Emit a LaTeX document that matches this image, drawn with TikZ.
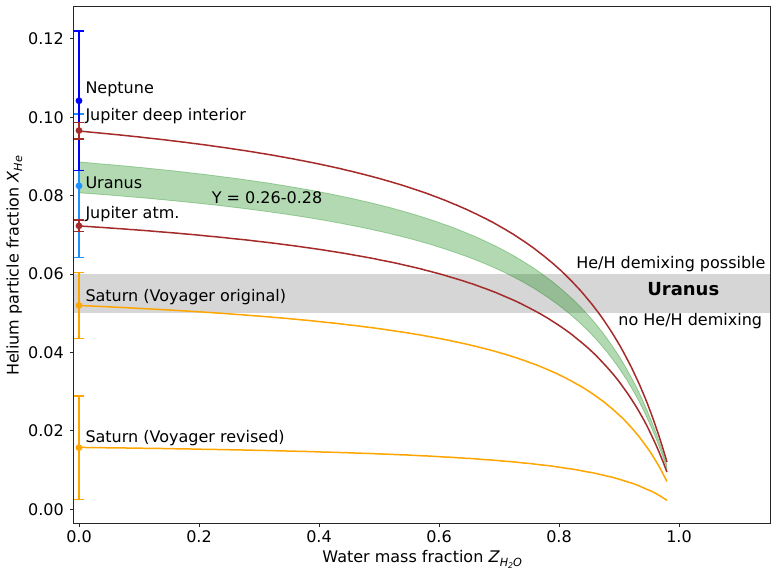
\documentclass[tikz,border=0pt]{standalone}
\usepackage{fontspec}
\setmainfont{DejaVu Sans}
\definecolor{mbrown}{HTML}{A52A2A}
\definecolor{morange}{HTML}{FFA500}
\definecolor{mblue}{HTML}{0000FF}
\definecolor{mlblue}{HTML}{1E90FF}
\definecolor{mgreen}{HTML}{008000}
\definecolor{mgray}{HTML}{D6D6D6}
\definecolor{axgray}{HTML}{262626}
\newcommand\hefun[2]{{#1*(1-#2)/((1-#2)+#2*(1+3*#1)/9)}}
\newcommand\ebar[4]{%
  \draw[color=#1,line width=2pt] (0,#3) -- (0,#4);
  \draw[color=#1,line width=1.5pt] (-0.0085,#3) -- (0.0085,#3) (-0.0085,#4) -- (0.0085,#4);
  \fill[color=#1] (0,#2) circle[radius=3.4pt];}
\tikzset{
  lab/.style={inner sep=0pt,font=\fontsize{16}{19}\selectfont},
  curve/.style={line width=1.5pt},
  tick/.style={line width=0.8pt,axgray}
}
\begin{document}
\begin{tikzpicture}[x=600pt,y=3920pt]
\useasboundingbox (-0.131667,-0.01727) rectangle (1.163333,0.12992);
% grey band
\fill[mgray] (-0.0095,0.05) rectangle (1.15167,0.06);
% green band
\fill[mgreen,opacity=0.3] plot[domain=0:0.98,samples=120] (\x,\hefun{0.088608}{\x}) -- plot[domain=0.98:0,samples=120] (\x,\hefun{0.080745}{\x}) -- cycle;
\draw[mgreen,opacity=0.3,line width=0.8pt] plot[domain=0:0.98,samples=120] (\x,\hefun{0.088608}{\x}) -- plot[domain=0.98:0,samples=120] (\x,\hefun{0.080745}{\x}) -- cycle;
% curves
\draw[curve,mbrown] plot[domain=0:0.98,samples=150] (\x,\hefun{0.0965}{\x});
\draw[curve,mbrown] plot[domain=0:0.98,samples=150] (\x,\hefun{0.0723}{\x});
\draw[curve,morange] plot[domain=0:0.98,samples=150] (\x,\hefun{0.0520}{\x});
\draw[curve,morange] plot[domain=0:0.98,samples=150] (\x,\hefun{0.0158}{\x});
% error bars
\ebar{mlblue}{0.0825}{0.0642}{0.1008}
\ebar{mblue}{0.1042}{0.0864}{0.1220}
\ebar{mbrown}{0.0966}{0.0945}{0.0987}
\ebar{mbrown}{0.0723}{0.0708}{0.0738}
\ebar{morange}{0.0520}{0.0436}{0.0604}
\ebar{morange}{0.0157}{0.0025}{0.0289}
% frame
\draw[axgray,line width=0.8pt] (-0.0095,-0.00357) rectangle (1.15167,0.12821);
% y ticks
\foreach \v/\t in {0/0.00,0.02/0.02,0.04/0.04,0.06/0.06,0.08/0.08,0.10/0.10,0.12/0.12}{
  \draw[tick] (-0.0095,\v) -- (-0.0155,\v);
  \node[lab,anchor=east] (yt\t) at (-0.025,\v) {\t};
}
% x ticks
\foreach \v/\t in {0/0.0,0.2/0.2,0.4/0.4,0.6/0.6,0.8/0.8,1.0/1.0}{
  \draw[tick] (\v,-0.00357) -- (\v,-0.00446);
  \node[lab,anchor=base] (xt\t) at (\v,-0.00853) {\t};
}
% axis labels
\node[lab,anchor=base] (xlab) at (0.572,-0.01362) {Water mass fraction \textit{Z}\raisebox{-3.5pt}{\fontsize{11.2}{11}\selectfont\textit{H}\raisebox{-2pt}{\fontsize{7.8}{8}\selectfont\textit{2}}\textit{O}}};
\node[lab,anchor=base,rotate=90] (ylab) at (-0.1005,0.06207) {Helium particle fraction \textit{X}\raisebox{-3.5pt}{\fontsize{11.2}{11}\selectfont\textit{He}}};
% labels
\node[lab,anchor=base west] (lnep) at (0.0105,0.10612) {Neptune};
\node[lab,anchor=base west] (ljd) at (0.0105,0.09923) {Jupiter deep interior};
\node[lab,anchor=base west] (lur) at (0.0105,0.08189) {Uranus};
\node[lab,anchor=base west] (lja) at (0.0105,0.07413) {Jupiter atm.};
\node[lab,anchor=base west] (lY) at (0.2211,0.07788) {Y = 0.26-0.28};
\node[lab,anchor=base west] (lso) at (0.0105,0.05296) {Saturn (Voyager original)};
\node[lab,anchor=base west] (lsr) at (0.0105,0.01699) {Saturn (Voyager revised)};
\node[lab,anchor=base east] (lpos) at (1.1445,0.06148) {He/H demixing possible};
\node[lab,anchor=base,font=\fontsize{18}{21}\selectfont\bfseries] (luranus) at (1.0071,0.05449) {Uranus};
\node[lab,anchor=base east] (lno) at (1.1388,0.04676) {no He/H demixing};
\end{tikzpicture}
\end{document}
